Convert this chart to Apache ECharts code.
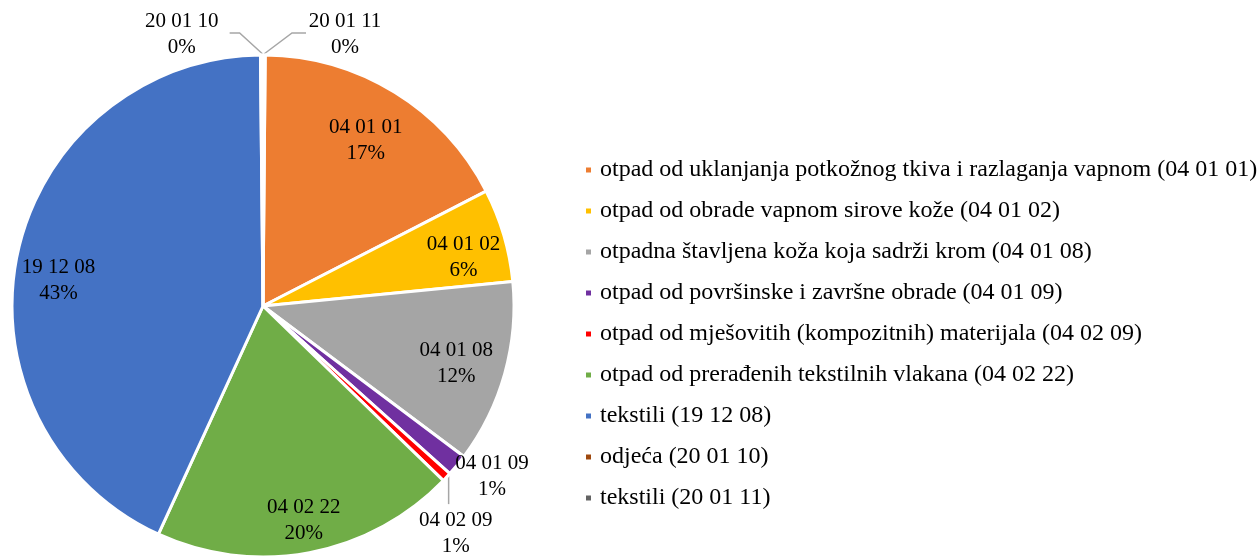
<!DOCTYPE html>
<html>
<head>
<meta charset="utf-8">
<script src="https://cdn.jsdelivr.net/npm/echarts@6/dist/echarts.min.js"></script>
<style>
  html, body { margin: 0; padding: 0; background: #fff; }
  #chart { width: 1260px; height: 557px; }
</style>
</head>
<body>
<div id="chart"></div>
<script>
// 数据
var names = [
  "otpad od uklanjanja potkožnog tkiva i razlaganja vapnom (04 01 01)",
  "otpad od obrade vapnom sirove kože (04 01 02)",
  "otpadna štavljena koža koja sadrži krom (04 01 08)",
  "otpad od površinske i završne obrade (04 01 09)",
  "otpad od mješovitih (kompozitnih) materijala (04 02 09)",
  "otpad od prerađenih tekstilnih vlakana (04 02 22)",
  "tekstili (19 12 08)",
  "odjeća (20 01 10)",
  "tekstili (20 01 11)"
];
var codes = ["04 01 01", "04 01 02", "04 01 08", "04 01 09", "04 02 09", "04 02 22", "19 12 08", "20 01 10", "20 01 11"];
var values = [17.3, 6.0, 11.8, 1.4, 0.6, 19.6, 43.0, 0.15, 0.15];
var colors = ["#ED7D31", "#FFC000", "#A5A5A5", "#7030A0", "#FF0000", "#70AD47", "#4472C4", "#9E480E", "#636363"];
// 小扇区标签在外部
var outside = [3, 4, 7, 8];

(function () {
  var myChart = echarts.init(document.getElementById('chart'))
  var font = "'Liberation Serif', 'Times New Roman', serif"

  // 内部标签的微调偏移 (Excel best fit 的位置)
  var innerOffset = {
    0: [-7, 12],
    1: [0, 11],
    2: [-8, 1],
    5: [2, 9],
    6: [0, 18]
  }

  // 主饼图，外部标签
  var mainData = values.map(function (v, i) {
    var isOut = outside.indexOf(i) >= 0
    return {
      name: names[i],
      value: v,
      label: { show: isOut },
      labelLine: {
        show: isOut,
        lineStyle: { color: "#A6A6A6", width: 1.5, opacity: i === 3 ? 0 : 1 }
      }
    }
  })
  // 透明环，用来把内部标签放到 0.82R
  var ringData = values.map(function (v, i) {
    return {
      name: names[i],
      value: v,
      label: { show: outside.indexOf(i) < 0, offset: innerOffset[i] || [0, 0] }
    }
  })

  var labelFmt = function (p) {
    return codes[p.dataIndex] + "\n" + p.percent + "%"
  }

  var option = {
    color: colors,
    legend: {
      orient: "vertical",
      left: 579,
      top: 153,
      itemWidth: 7,
      itemHeight: 7,
      itemGap: 17,
      icon: "rect",
      data: names,
      selectedMode: false,
      textStyle: {
        fontFamily: font,
        fontSize: 24,
        lineHeight: 24,
        color: "#000",
        padding: [0, 0, 0, 3]
      }
    },
    series: [
      {
        name: "main",
        type: "pie",
        center: [263, 306],
        radius: 251,
        startAngle: 89.5,
        percentPrecision: 0,
        avoidLabelOverlap: false,
        itemStyle: { borderColor: "#fff", borderWidth: 3 },
        emphasis: { disabled: true },
        label: {
          position: "outside",
          formatter: labelFmt,
          fontFamily: font,
          fontSize: 21,
          lineHeight: 26,
          color: "#000",
          align: "center"
        },
        labelLine: { length: 20, length2: 10 },
        // 按扇区边缘点微调外部标签
        labelLayout: function (params) {
          var p = params.labelLinePoints
          if (!p) return {}
          var x0 = p[0][0], y0 = p[0][1]
          var i = params.dataIndex
          if (i === 3) {
            return { x: x0 + 35, y: y0 + 11, align: "center", verticalAlign: "middle",
              labelLinePoints: [[x0, y0], [x0, y0], [x0, y0]] }
          }
          if (i === 4) {
            return { x: x0 + 9, y: y0 + 56, align: "center", verticalAlign: "middle",
              labelLinePoints: [[x0 + 2, y0 - 1], [x0 + 2, y0 + 27], [x0 + 2, y0 + 27]] }
          }
          if (i === 7) {
            return { x: x0 - 80, y: y0 - 21, align: "center", verticalAlign: "middle",
              labelLinePoints: [[x0 + 1, y0 - 1], [x0 - 22, y0 - 22], [x0 - 32, y0 - 22]] }
          }
          if (i === 8) {
            return { x: x0 + 81, y: y0 - 21, align: "center", verticalAlign: "middle",
              labelLinePoints: [[x0, y0 - 1], [x0 + 28, y0 - 22], [x0 + 42, y0 - 22]] }
          }
          return {}
        },
        data: mainData
      },
      {
        name: "labels",
        type: "pie",
        center: [263, 306],
        radius: [161, 251],
        startAngle: 89.5,
        percentPrecision: 0,
        silent: true,
        itemStyle: { color: "transparent" },
        emphasis: { disabled: true },
        label: {
          position: "inside",
          formatter: labelFmt,
          fontFamily: font,
          fontSize: 21,
          lineHeight: 26,
          color: "#000"
        },
        labelLine: { show: false },
        data: ringData
      }
    ]
  };

  myChart.setOption(option)
  window.addEventListener("resize", function () {
    myChart.resize()
  })
})();
</script>
</body>
</html>
